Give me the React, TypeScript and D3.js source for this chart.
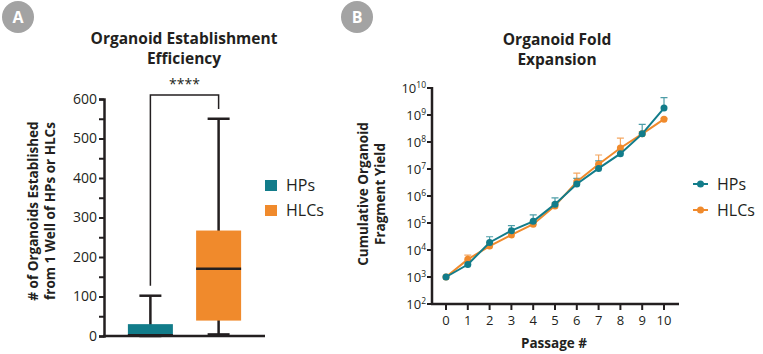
import React, { useRef, useEffect } from "react";
import * as d3 from "d3";

// Panel A: box plot summary
const groups = ["HPs", "HLCs"];
const boxMin = [0, 4];
const boxQ1 = [0, 39];
const boxMedian = [2, 170];
const boxQ3 = [30, 267];
const boxMax = [102, 550];
const yTicksA = [0, 100, 200, 300, 400, 500, 600];

// Panel B: fold expansion
const passages = [0, 1, 2, 3, 4, 5, 6, 7, 8, 9, 10];
const hpsMean = [1e3, 2.9e3, 1.9e4, 5.2e4, 1.15e5, 5e5, 2.8e6, 1.05e7, 3.7e7, 2e8, 1.8e9];
const hpsUpper = [1e3, 3.6e3, 3.1e4, 8e4, 2e5, 8.5e5, 4.5e6, 2e7, 5e7, 4.5e8, 4.4e9];
const hlcsMean = [1e3, 4.5e3, 1.4e4, 3.6e4, 9e4, 4.3e5, 3.4e6, 1.5e7, 6e7, 2e8, 7e8];
const hlcsUpper = [1e3, 6.5e3, 1.8e4, 4.5e4, 1.1e5, 5.5e5, 7e6, 3.3e7, 1.4e8, 2.4e8, 7.5e8];
const yExpB = [2, 3, 4, 5, 6, 7, 8, 9, 10];

const TEAL = "#127c8a";
const ORANGE = "#f08a2c";
const INK = "#231f20";
const FONT = "'Open Sans', sans-serif";

const App = () => {
  const svgRef = useRef(null);

  useEffect(() => {
    const svg = d3.select(svgRef.current);
    svg.selectAll("*").remove();
    svg.attr("font-family", FONT);

    // badges
    [["A", 18], ["B", 357]].forEach(([t, cx]) => {
      svg.append("circle").attr("cx", cx).attr("cy", 17).attr("r", 16).attr("fill", "#a3a3a3");
      svg.append("text").attr("x", cx).attr("y", 23).attr("text-anchor", "middle")
        .attr("fill", "#fff").attr("font-size", 16).attr("font-weight", "bold").text(t);
    });

    // ---------- Panel A ----------
    const yA = d3.scaleLinear().domain([0, 600]).range([336, 99]);
    const xA = d3.scalePoint().domain(groups).range([104, 265]).padding(0.68);
    const boxW = 45;

    const gA = svg.append("g");
    ["Organoid Establishment", "Efficiency"].forEach((t, i) => {
      gA.append("text").attr("x", 184).attr("y", 44 + i * 20).attr("text-anchor", "middle")
        .attr("font-size", 15.5).attr("font-weight", "bold").attr("fill", INK).text(t);
    });

    // y axis
    const axA = gA.append("g").attr("transform", "translate(104,0)")
      .call(d3.axisLeft(yA).tickValues(d3.range(0, 601, 50)).tickSize(5)
        .tickFormat(d => (yTicksA.includes(d as number) ? String(d) : "")));
    axA.select(".domain").attr("stroke", INK).attr("stroke-width", 2.5);
    axA.selectAll(".tick line").attr("stroke", INK).attr("stroke-width", 2);
    axA.selectAll(".tick text").attr("font-size", 14).attr("fill", INK).attr("font-family", FONT).attr("x", -7);

    ["# of Organoids Established", "from 1 Well of HPs or HLCs"].forEach((t, i) => {
      gA.append("text").attr("transform", `translate(${38 + i * 17},211) rotate(-90)`)
        .attr("text-anchor", "middle").attr("font-size", 13.5).attr("font-weight", "bold")
        .attr("fill", INK).text(t);
    });

    const colorsA = [TEAL, ORANGE];
    groups.forEach((g, i) => {
      const cx = xA(g) as number;
      // whisker
      gA.append("line").attr("x1", cx).attr("x2", cx).attr("y1", yA(boxMax[i])).attr("y2", yA(boxMin[i]))
        .attr("stroke", INK).attr("stroke-width", 2.5);
      [boxMax[i], boxMin[i]].forEach(v => {
        gA.append("line").attr("x1", cx - 11).attr("x2", cx + 11).attr("y1", yA(v)).attr("y2", yA(v))
          .attr("stroke", INK).attr("stroke-width", 2.5);
      });
      gA.append("rect").attr("x", cx - boxW / 2).attr("width", boxW)
        .attr("y", yA(boxQ3[i])).attr("height", yA(boxQ1[i]) - yA(boxQ3[i]))
        .attr("fill", colorsA[i]);
      gA.append("line").attr("x1", cx - boxW / 2).attr("x2", cx + boxW / 2)
        .attr("y1", yA(boxMedian[i])).attr("y2", yA(boxMedian[i]))
        .attr("stroke", INK).attr("stroke-width", 2.5);
    });
    // x axis line, drawn over the box bottoms
    gA.append("line").attr("x1", 103).attr("x2", 265).attr("y1", 336).attr("y2", 336)
      .attr("stroke", INK).attr("stroke-width", 2.5);

    // significance bracket
    const x1 = xA(groups[0]) as number;
    const x2 = xA(groups[1]) as number;
    gA.append("path")
      .attr("d", `M${x1},${yA(127)}V${yA(610)}H${x2}V${yA(575)}`)
      .attr("fill", "none").attr("stroke", INK).attr("stroke-width", 1.5);
    gA.append("text").attr("x", (x1 + x2) / 2).attr("y", 89).attr("text-anchor", "middle")
      .attr("font-size", 14).attr("fill", INK).text("****");

    // legend A
    groups.forEach((g, i) => {
      gA.append("rect").attr("x", 265).attr("y", 180 + i * 25).attr("width", 12).attr("height", 11)
        .attr("fill", colorsA[i]);
      gA.append("text").attr("x", 286).attr("y", 191 + i * 25).attr("font-size", 16)
        .attr("fill", INK).text(g);
    });

    // ---------- Panel B ----------
    const xB = d3.scaleLinear().domain([0, 10]).range([446, 664]);
    const yB = d3.scaleLog().domain([1e2, 1e10]).range([304, 88]);
    const gB = svg.append("g");

    ["Organoid Fold", "Expansion"].forEach((t, i) => {
      gB.append("text").attr("x", 557).attr("y", 45 + i * 20).attr("text-anchor", "middle")
        .attr("font-size", 15.5).attr("font-weight", "bold").attr("fill", INK).text(t);
    });

    // y axis (log)
    gB.append("line").attr("x1", 432).attr("x2", 432).attr("y1", 87).attr("y2", 305)
      .attr("stroke", INK).attr("stroke-width", 2.5);
    yExpB.forEach(e => {
      const y = yB(Math.pow(10, e));
      gB.append("line").attr("x1", 427).attr("x2", 432).attr("y1", y).attr("y2", y)
        .attr("stroke", INK).attr("stroke-width", 2);
      const t = gB.append("text").attr("x", 426).attr("y", y + 5).attr("text-anchor", "end")
        .attr("font-size", 13).attr("fill", INK);
      t.append("tspan").text("10");
      t.append("tspan").attr("dy", -5.5).attr("font-size", 8.5).text(String(e));
    });

    // x axis
    gB.append("line").attr("x1", 431).attr("x2", 679).attr("y1", 304).attr("y2", 304)
      .attr("stroke", INK).attr("stroke-width", 2.5);
    passages.forEach(p => {
      gB.append("line").attr("x1", xB(p)).attr("x2", xB(p)).attr("y1", 304).attr("y2", 310)
        .attr("stroke", INK).attr("stroke-width", 2);
      gB.append("text").attr("x", xB(p)).attr("y", 325).attr("text-anchor", "middle")
        .attr("font-size", 13).attr("fill", INK).text(String(p));
    });
    gB.append("text").attr("x", 554).attr("y", 348).attr("text-anchor", "middle")
      .attr("font-size", 13.5).attr("font-weight", "bold").attr("fill", INK).text("Passage #");

    ["Cumulative Organoid", "Fragment Yield"].forEach((t, i) => {
      gB.append("text").attr("transform", `translate(${368 + i * 17},194) rotate(-90)`)
        .attr("text-anchor", "middle").attr("font-size", 13.5).attr("font-weight", "bold")
        .attr("fill", INK).text(t);
    });

    const series = [
      { name: "HLCs", mean: hlcsMean, upper: hlcsUpper, color: ORANGE },
      { name: "HPs", mean: hpsMean, upper: hpsUpper, color: TEAL },
    ];
    const line = d3.line<number>().x((_, i) => xB(passages[i])).y(d => yB(d));
    series.forEach(s => {
      s.mean.forEach((m, i) => {
        if (s.upper[i] <= m) return;
        const x = xB(passages[i]);
        gB.append("path")
          .attr("d", `M${x},${yB(m)}V${yB(s.upper[i])}M${x - 3.5},${yB(s.upper[i])}H${x + 3.5}`)
          .attr("stroke", s.color).attr("stroke-opacity", 0.75).attr("stroke-width", 1.2).attr("fill", "none");
      });
    });
    series.forEach(s => {
      gB.append("path").datum(s.mean).attr("d", line).attr("fill", "none")
        .attr("stroke", s.color).attr("stroke-width", 2);
      gB.selectAll(null).data(s.mean).enter().append("circle")
        .attr("cx", (_, i) => xB(passages[i])).attr("cy", d => yB(d)).attr("r", 3.5)
        .attr("fill", s.color);
    });

    // legend B
    [series[1], series[0]].forEach((s, i) => {
      const y = 184 + i * 26;
      gB.append("line").attr("x1", 693).attr("x2", 708).attr("y1", y).attr("y2", y)
        .attr("stroke", s.color).attr("stroke-width", 2);
      gB.append("circle").attr("cx", 700.5).attr("cy", y).attr("r", 3.5).attr("fill", s.color);
      gB.append("text").attr("x", 717).attr("y", y + 6).attr("font-size", 16)
        .attr("fill", INK).text(s.name);
    });
  }, []);

  return (
    <svg
      ref={svgRef}
      width={763}
      height={354}
      style={{ position: "absolute", left: 0, top: 0, background: "#fff" }}
    />
  );
};

export default App;
